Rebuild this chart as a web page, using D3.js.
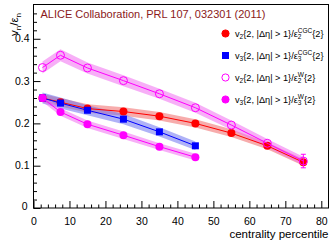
<!DOCTYPE html>
<html>
<head>
<meta charset="utf-8">
<script src="https://cdn.jsdelivr.net/npm/d3@7"></script>
<style>
  body { margin: 0; background: #fff; }
  text { font-family: "Liberation Sans", Arial, sans-serif; }
</style>
</head>
<body>
<main></main>
<script>
// centrality bins (percent)
var cent = [2.5, 7.5, 15, 25, 35, 45, 55, 65, 75];
var cent6 = [2.5, 7.5, 15, 25, 35, 45];

// v2{2,|deta|>1}/eps2 CGC
var v2cgc = [0.260, 0.250, 0.235, 0.228, 0.217, 0.200, 0.177, 0.147, 0.108];
var v2cgcSys = [0.010, 0.010, 0.010, 0.010, 0.010, 0.010, 0.009, 0.008, 0.008];
var v2cgcStat = [0.002, 0.002, 0.002, 0.002, 0.002, 0.002, 0.003, 0.004, 0.008];
// v3/eps3 CGC
var v3cgc = [0.260, 0.248, 0.231, 0.210, 0.180, 0.147];
var v3cgcSys = [0.013, 0.013, 0.012, 0.012, 0.011, 0.010];
// v2/eps2 Glauber (W)
var v2w = [0.332, 0.361, 0.331, 0.301, 0.270, 0.237, 0.196, 0.153, 0.111];
var v2wSys = [0.014, 0.014, 0.013, 0.013, 0.012, 0.012, 0.011, 0.010, 0.010];
var v2wStat = [0.002, 0.002, 0.002, 0.002, 0.002, 0.002, 0.003, 0.004, 0.016];
// v3/eps3 Glauber (W)
var v3w = [0.260, 0.227, 0.198, 0.172, 0.145, 0.120];
var v3wSys = [0.009, 0.009, 0.009, 0.009, 0.008, 0.008];

var xTicks = [0, 10, 20, 30, 40, 50, 60, 70, 80];
var yTicks = [0, 0.1, 0.2, 0.3, 0.4];
var yLabels = ['0', '0.1', '0.2', '0.3', '0.4'];

!function(){
    var W = 333, H = 245;
    var m = {l: 33.5, r: 4.5, t: 4.5, b: 37};

    var svg = d3.select('main').append('svg')
        .attr('width', W)
        .attr('height', H);

    var x = d3.scaleLinear().domain([0, 82]).range([m.l, W - m.r]);
    var y = d3.scaleLinear().domain([0, 0.481]).range([H - m.b, m.t]);

    // series
    var series = [
        {xs: cent, v: v2cgc, sys: v2cgcSys, stat: v2cgcStat, col: '#ff0000', band: 'rgba(240,90,90,0.5)', mk: 'circle', fill: true},
        {xs: cent6, v: v3cgc, sys: v3cgcSys, stat: null, col: '#0000ff', band: 'rgba(110,115,240,0.55)', mk: 'square', fill: true},
        {xs: cent, v: v2w, sys: v2wSys, stat: v2wStat, col: '#ff00ff', band: 'rgba(240,110,240,0.55)', mk: 'circle', fill: false},
        {xs: cent6, v: v3w, sys: v3wSys, stat: null, col: '#ff00ff', band: 'rgba(240,110,240,0.55)', mk: 'circle', fill: true}
    ];

    var plot = svg.append('g');

    series.forEach(s => {
        var pts = s.xs.map((c, i) => ({c: c, v: s.v[i], e: s.sys[i]}));
        plot.append('path')
            .datum(pts)
            .attr('fill', s.band)
            .attr('d', d3.area().x(d => x(d.c)).y0(d => y(d.v - d.e)).y1(d => y(d.v + d.e)));
    });

    series.forEach(s => {
        var pts = s.xs.map((c, i) => ({c: c, v: s.v[i], st: s.stat ? s.stat[i] : 0}));
        plot.append('path')
            .datum(pts)
            .attr('fill', 'none').attr('stroke', s.col).attr('stroke-width', 1)
            .attr('d', d3.line().x(d => x(d.c)).y(d => y(d.v)));

        // stat error bars where they stick out of the marker
        pts.filter(d => y(d.v - d.st) - y(d.v + d.st) > 8).forEach(d => {
            var g = plot.append('g').attr('stroke', s.col).attr('stroke-width', 1);
            g.append('line').attr('x1', x(d.c)).attr('x2', x(d.c)).attr('y1', y(d.v - d.st)).attr('y2', y(d.v + d.st));
            g.append('line').attr('x1', x(d.c) - 2.5).attr('x2', x(d.c) + 2.5).attr('y1', y(d.v - d.st)).attr('y2', y(d.v - d.st));
            g.append('line').attr('x1', x(d.c) - 2.5).attr('x2', x(d.c) + 2.5).attr('y1', y(d.v + d.st)).attr('y2', y(d.v + d.st));
        });

        var mk = plot.selectAll(null).data(pts).enter();
        if (s.mk === 'square') {
            mk.append('rect')
                .attr('x', d => x(d.c) - 3.5).attr('y', d => y(d.v) - 3.5)
                .attr('width', 7).attr('height', 7)
                .attr('fill', s.col);
        } else if (s.fill) {
            mk.append('circle').attr('cx', d => x(d.c)).attr('cy', d => y(d.v))
                .attr('r', 4).attr('fill', s.col);
        } else {
            mk.append('circle').attr('cx', d => x(d.c)).attr('cy', d => y(d.v))
                .attr('r', 4).attr('fill', 'none').attr('stroke', s.col).attr('stroke-width', 1);
        }
    });

    // title
    svg.append('text')
        .attr('x', 40.5).attr('y', 17.5)
        .attr('font-size', 11).attr('fill', '#8b1a1a')
        .text('ALICE Collaboration, PRL 107, 032301 (2011)');

    // legend
    var leg = [
        {n: '2', sup: 'CGC', col: '#ff0000', mk: 'circle', fill: true},
        {n: '3', sup: 'CGC', col: '#0000ff', mk: 'square', fill: true},
        {n: '2', sup: 'W', col: '#ff00ff', mk: 'circle', fill: false},
        {n: '3', sup: 'W', col: '#ff00ff', mk: 'circle', fill: true}
    ];
    leg.forEach((l, i) => {
        var ly = 33.5 + i * 22;
        if (l.mk === 'square') {
            svg.append('rect').attr('x', 222).attr('y', ly - 3.5).attr('width', 7).attr('height', 7).attr('fill', l.col);
        } else {
            svg.append('circle').attr('cx', 225.5).attr('cy', ly).attr('r', 3.6)
                .attr('fill', l.fill ? l.col : 'none').attr('stroke', l.col).attr('stroke-width', 1);
        }
        var t = svg.append('text').attr('x', 235).attr('y', ly + 3.5).attr('font-size', 9.2).attr('fill', '#000');
        t.append('tspan').text('v');
        t.append('tspan').attr('font-size', 6.5).attr('dy', 2).text(l.n);
        t.append('tspan').attr('dy', -2).text('{2, |Δη| > 1}/ε');
        t.append('tspan').attr('font-size', 6.5).attr('dy', 2).text(l.n);
        t.append('tspan').attr('font-size', 6.5).attr('dx', -3.6).attr('dy', -6.5).text(l.sup);
        t.append('tspan').attr('dy', 4.5).text('{2}');
    });

    // axis titles
    svg.append('text')
        .attr('x', W - m.r).attr('y', 237.5)
        .attr('text-anchor', 'end').attr('font-size', 11.5)
        .text('centrality percentile');

    var yl = svg.append('text')
        .attr('transform', 'translate(18,' + 36 + ') rotate(-90)')
        .attr('font-size', 11.5);
    yl.append('tspan').text('v');
    yl.append('tspan').attr('font-size', 8).attr('dy', 2.5).text('n');
    yl.append('tspan').attr('dy', -2.5).text('/ε');
    yl.append('tspan').attr('font-size', 8).attr('dy', 2.5).text('n');

    // frame
    svg.append('rect')
        .attr('x', m.l).attr('y', m.t)
        .attr('width', W - m.r - m.l).attr('height', H - m.b - m.t)
        .attr('fill', 'none').attr('stroke', '#000').attr('stroke-width', 1);

    // axes, ROOT style ticks pointing inside (drawn last, on top)
    var xMinor = d3.range(0, 82, 2).filter(d => d % 10 !== 0);
    var yMinor = d3.range(1, 24).filter(d => d % 5 !== 0).map(d => d * 0.02);

    var gx = svg.append('g').attr('transform', 'translate(0,' + (H - m.b) + ')');
    gx.call(d3.axisBottom(x).tickValues(xTicks).tickSize(-7).tickPadding(12).tickFormat(d3.format('d')));
    gx.append('g').call(d3.axisBottom(x).tickValues(xMinor).tickSize(-3.5).tickFormat(''));

    var gy = svg.append('g').attr('transform', 'translate(' + m.l + ',0)');
    gy.call(d3.axisLeft(y).tickValues(yTicks).tickSize(-7).tickFormat(''));
    gy.append('g').call(d3.axisLeft(y).tickValues(yMinor).tickSize(-3.5).tickFormat(''));

    svg.selectAll('.domain').remove();
    svg.selectAll('.tick line').attr('stroke', '#000');
    gx.selectAll('.tick text').attr('font-size', 10.5).attr('fill', '#000').attr('dy', '0.5em')
        .style('font-family', '"Liberation Sans", Arial, sans-serif');

    // y tick labels, placed with the y scale
    svg.append('g')
        .selectAll('text')
        .data(yTicks)
        .join('text')
        .attr('x', (d, i) => i === 0 ? m.l - 6 : m.l - 4)
        .attr('y', (d, i) => y(d) + (i === 0 ? 2 : 3.7))
        .attr('text-anchor', 'end')
        .attr('font-size', 10.5)
        .attr('fill', '#000')
        .text((d, i) => yLabels[i]);
}();
</script>
</body>
</html>
